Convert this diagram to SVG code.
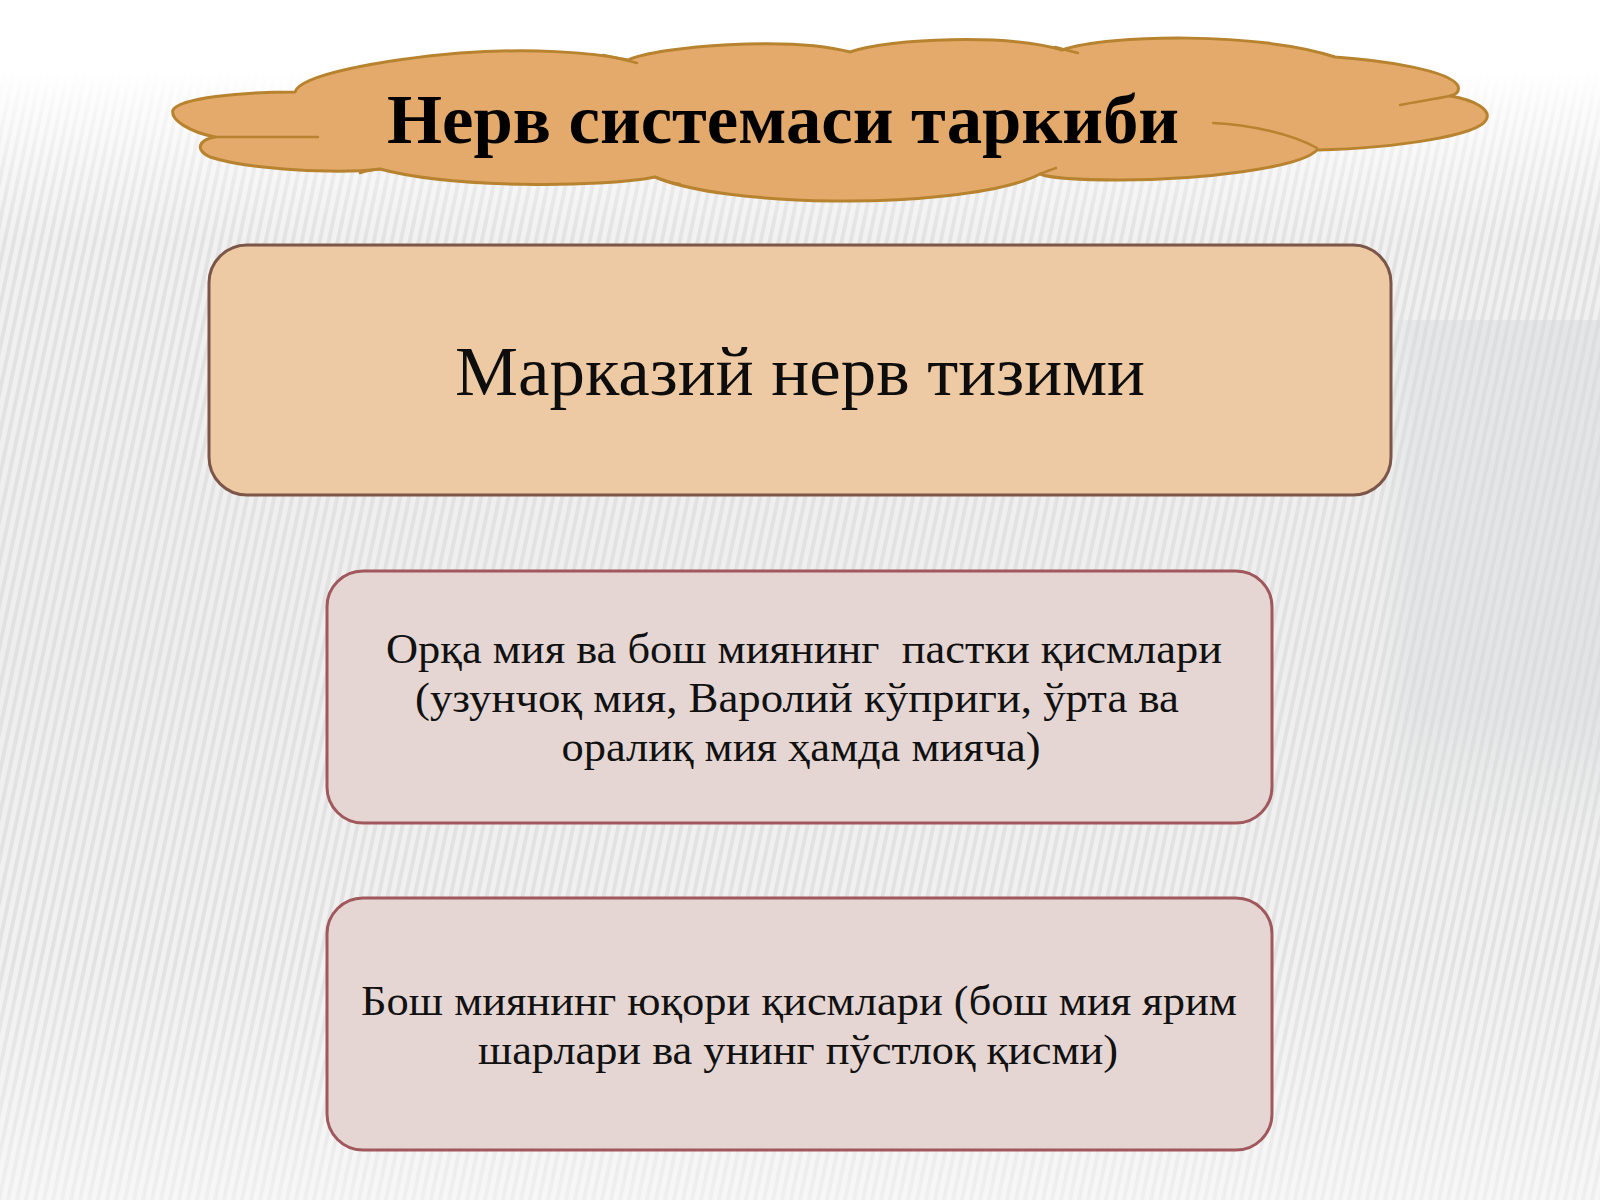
<svg xmlns="http://www.w3.org/2000/svg" width="1600" height="1200" viewBox="0 0 1600 1200">
  <defs>
    <linearGradient id="bgGrad" x1="0" y1="0" x2="0" y2="1">
      <stop offset="0" stop-color="#ffffff"/>
      <stop offset="0.06" stop-color="#ffffff"/>
      <stop offset="0.2" stop-color="#f1f1f1"/>
      <stop offset="0.55" stop-color="#eeeeee"/>
      <stop offset="0.85" stop-color="#f2f2f2"/>
      <stop offset="1" stop-color="#f7f7f7"/>
    </linearGradient>
    <linearGradient id="rightShade" x1="0" y1="0" x2="1" y2="0">
      <stop offset="0" stop-color="#d4d8da" stop-opacity="0"/>
      <stop offset="0.15" stop-color="#d4d8da" stop-opacity="0.35"/>
      <stop offset="1" stop-color="#d4d8da" stop-opacity="0.45"/>
    </linearGradient>
    <linearGradient id="rightShadeV" x1="0" y1="0" x2="0" y2="1">
      <stop offset="0" stop-color="#fff" stop-opacity="1"/>
      <stop offset="0.75" stop-color="#fff" stop-opacity="1"/>
      <stop offset="1" stop-color="#fff" stop-opacity="0"/>
    </linearGradient>
    <mask id="rightMask">
      <rect x="1380" y="320" width="220" height="520" fill="url(#rightShadeV)"/>
    </mask>
    <pattern id="stripes" width="9" height="40" patternUnits="userSpaceOnUse" patternTransform="skewX(-12)">
      <rect x="0" y="0" width="4" height="40" fill="#d9d9d9"/>
    </pattern>
    <linearGradient id="stripeFade" x1="0" y1="0" x2="0" y2="1">
      <stop offset="0" stop-color="#fff" stop-opacity="0"/>
      <stop offset="0.06" stop-color="#fff" stop-opacity="0"/>
      <stop offset="0.2" stop-color="#fff" stop-opacity="0.6"/>
      <stop offset="0.8" stop-color="#fff" stop-opacity="0.6"/>
      <stop offset="1" stop-color="#fff" stop-opacity="0.25"/>
    </linearGradient>
    <mask id="stripeMask">
      <rect x="0" y="0" width="1600" height="1200" fill="url(#stripeFade)"/>
    </mask>
  </defs>
  <style>
    .cloud { fill: #e3aa6c; stroke: #b8832f; stroke-width: 3; stroke-linejoin: round; }
    .crease { fill: none; stroke: #b8832f; stroke-width: 2.5; stroke-linecap: round; }
    .box1 { fill: #edc9a4; stroke: #7c5648; stroke-width: 3; }
    .box2 { fill: #e5d6d3; stroke: #a0585c; stroke-width: 3; }
    .title { font-family: "Liberation Serif", "Times New Roman", serif; font-weight: bold; font-size: 70px; fill: #000; }
    .big { font-family: "Liberation Serif", "Times New Roman", serif; font-size: 70px; fill: #0d0d0d; }
    .txt { font-family: "Liberation Serif", "Times New Roman", serif; font-size: 42px; fill: #111; white-space: pre; }
  </style>

  <!-- background -->
  <rect x="0" y="0" width="1600" height="1200" fill="url(#bgGrad)"/>
  <rect x="0" y="0" width="1600" height="1200" fill="url(#stripes)" mask="url(#stripeMask)"/>
  <rect x="1380" y="320" width="220" height="520" fill="url(#rightShade)" mask="url(#rightMask)"/>

  <!-- title cloud -->
  <g id="title-cloud">
    <path class="cloud" d="M 173 110
      C 180 98, 240 92, 295 92
      C 300 75, 380 60, 460 53
      C 530 48, 590 52, 628 60
      C 660 46, 790 36, 850 52
      C 890 38, 1010 34, 1062 50
      C 1110 34, 1260 32, 1335 57
      C 1380 60, 1450 70, 1458 86
      C 1460 92, 1455 95, 1450 96
      C 1475 100, 1492 110, 1486 120
      C 1478 135, 1400 148, 1317 150
      C 1300 168, 1200 180, 1120 180
      C 1080 180, 1050 178, 1040 174
      C 1000 195, 900 202, 833 201
      C 760 200, 690 192, 655 177
      C 600 188, 450 188, 380 169
      C 340 174, 250 170, 210 157
      C 195 150, 198 140, 215 137
      C 190 132, 170 120, 173 110 Z"/>
    <path class="crease" d="M 215 137 C 250 137, 290 137, 318 137"/>
    <path class="crease" d="M 603 55 C 615 57, 625 60, 637 63"/>
    <path class="crease" d="M 1055 47 C 1062 49, 1070 51, 1078 53"/>
    <path class="crease" d="M 1450 96 C 1435 99, 1415 102, 1400 105"/>
    <path class="crease" d="M 1317 148 C 1292 134, 1252 125, 1213 123"/>
    <path class="crease" d="M 655 177 C 662 180, 670 183, 680 184"/>
    <path class="crease" d="M 1040 174 C 1045 172, 1050 170, 1056 168"/>
    <path class="crease" d="M 380 169 C 372 170, 366 171, 360 173"/>
    <text class="title" x="783" y="143" text-anchor="middle" textLength="792" lengthAdjust="spacingAndGlyphs">Нерв системаси таркиби</text>
  </g>

  <!-- central nervous system box -->
  <g id="node-cns">
    <rect class="box1" x="209" y="245" width="1182" height="250" rx="38" ry="38"/>
    <text class="big" x="800" y="395" text-anchor="middle" textLength="690" lengthAdjust="spacingAndGlyphs">Марказий нерв тизими</text>
  </g>

  <!-- spinal cord / lower brain box -->
  <g id="node-lower">
    <rect class="box2" x="327" y="571" width="945" height="252" rx="36" ry="36"/>
    <text class="txt" x="804" y="663" text-anchor="middle" textLength="836" lengthAdjust="spacingAndGlyphs">Орқа мия ва бош миянинг  пастки қисмлари</text>
    <text class="txt" x="797" y="712" text-anchor="middle" textLength="764" lengthAdjust="spacingAndGlyphs">(узунчоқ мия, Варолий кўприги, ўрта ва</text>
    <text class="txt" x="801" y="761" text-anchor="middle" textLength="479" lengthAdjust="spacingAndGlyphs">оралиқ мия ҳамда мияча)</text>
  </g>

  <!-- upper brain box -->
  <g id="node-upper">
    <rect class="box2" x="327" y="898" width="945" height="252" rx="36" ry="36"/>
    <text class="txt" x="799" y="1015" text-anchor="middle" textLength="876" lengthAdjust="spacingAndGlyphs">Бош миянинг юқори қисмлари (бош мия ярим</text>
    <text class="txt" x="798" y="1064" text-anchor="middle" textLength="640" lengthAdjust="spacingAndGlyphs">шарлари ва унинг пўстлоқ қисми)</text>
  </g>

  <g id="connectors"></g>
</svg>
